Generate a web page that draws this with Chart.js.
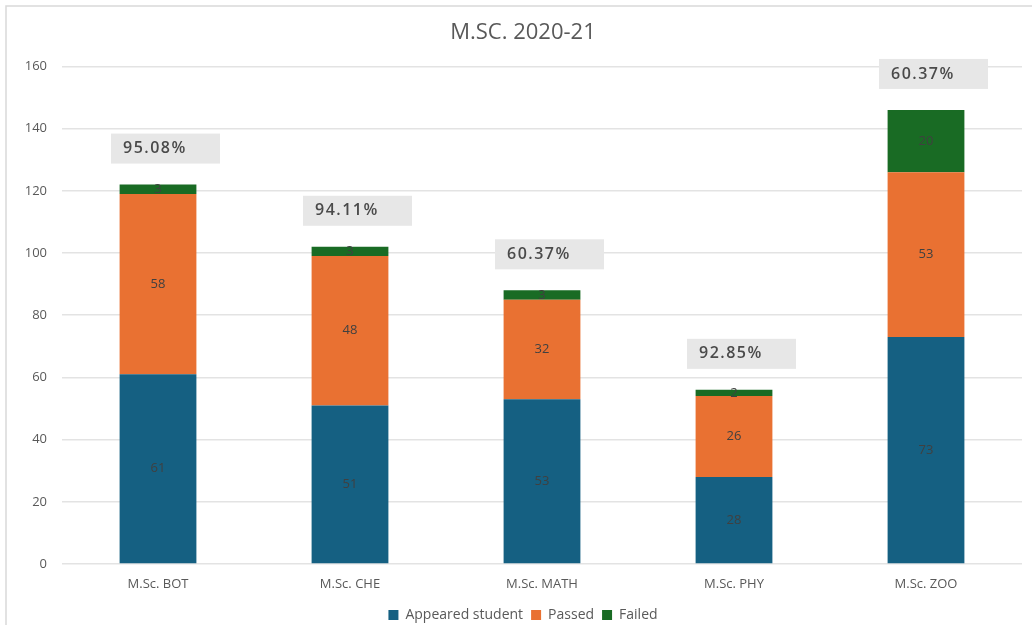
<!DOCTYPE html>
<html>
<head>
<meta charset="utf-8">
<script src="https://cdn.jsdelivr.net/npm/chart.js@4"></script>
<style>
html,body{margin:0;padding:0;background:#fff;}
#wrap{position:relative;width:1032px;height:625px;}
</style>
</head>
<body>
<div id="wrap"><canvas id="c" width="1032" height="625"></canvas></div>
<script>
const categories = ['M.Sc. BOT', 'M.Sc. CHE', 'M.Sc. MATH', 'M.Sc. PHY', 'M.Sc. ZOO'];
const appeared = [61, 51, 53, 28, 73];
const passed = [58, 48, 32, 26, 53];
const failed = [3, 3, 3, 2, 20];
const passPercent = ['95.08%', '94.11%', '60.37%', '92.85%', '60.37%'];
const yTicks = [0, 20, 40, 60, 80, 100, 120, 140, 160];

const FONT = '"Open Sans", "Liberation Sans", Arial, sans-serif';
const GREY = '#595959';

const frame = {
  id: 'frame',
  beforeDraw(chart) {
    const ctx = chart.ctx;
    ctx.save();
    ctx.fillStyle = '#fff';
    ctx.fillRect(0, 0, chart.width, chart.height);
    ctx.strokeStyle = '#d9d9d9';
    ctx.lineWidth = 1.5;
    ctx.strokeRect(6, 6, chart.width + 20, chart.height + 20);
    ctx.restore();
  }
};

const labelsPlugin = {
  id: 'segLabels',
  afterDatasetsDraw(chart) {
    const ctx = chart.ctx;
    ctx.save();
    ctx.font = '13px ' + FONT;
    ctx.fillStyle = '#404040';
    ctx.textAlign = 'center';
    ctx.textBaseline = 'middle';
    chart.data.datasets.forEach((ds, di) => {
      const meta = chart.getDatasetMeta(di);
      meta.data.forEach((bar, i) => {
        const yc = (bar.y + bar.base) / 2;
        ctx.fillText(String(ds.data[i]), bar.x, yc);
      });
    });
    const xs = chart.scales.x, ys = chart.scales.y;
    categories.forEach((c, i) => {
      const total = appeared[i] + passed[i] + failed[i];
      const x = xs.getPixelForValue(i);
      const yTop = ys.getPixelForValue(total);
      const left = x - 47, top = yTop - 51, w = 109, h = 30;
      ctx.fillStyle = '#e7e7e7';
      ctx.fillRect(left, top, w, h);
      ctx.fillStyle = '#4a4a4a';
      ctx.font = '600 16px ' + FONT;
      if ('letterSpacing' in ctx) ctx.letterSpacing = '1.5px';
      ctx.textAlign = 'left';
      ctx.fillText(passPercent[i], left + 12, top + h / 2);
    });
    ctx.restore();
  }
};

new Chart(document.getElementById('c'), {
  type: 'bar',
  data: {
    labels: categories,
    datasets: [
      { label: 'Appeared student', data: appeared, backgroundColor: '#156082' },
      { label: 'Passed', data: passed, backgroundColor: '#E97132' },
      { label: 'Failed', data: failed, backgroundColor: '#196B24' }
    ]
  },
  options: {
    responsive: false,
    animation: false,
    devicePixelRatio: 1,
    layout: { padding: { left: 24, right: 10, top: 16, bottom: -7 } },
    datasets: { bar: { categoryPercentage: 0.8, barPercentage: 0.5 } },
    plugins: {
      title: {
        display: true,
        text: 'M.SC. 2020-21',
        color: GREY,
        font: { family: FONT, size: 22, weight: 'normal' },
        padding: { top: 4, bottom: 20 }
      },
      legend: {
        position: 'bottom',
        labels: {
          color: GREY,
          font: { family: FONT, size: 14 },
          boxWidth: 10, boxHeight: 10, padding: 8
        }
      },
      tooltip: { enabled: false }
    },
    scales: {
      x: {
        stacked: true,
        grid: { display: false },
        border: { display: false },
        afterFit(s) { s.height = 36; },
        ticks: { color: GREY, font: { family: FONT, size: 13 }, padding: 4 }
      },
      y: {
        stacked: true,
        min: 0, max: 160,
        afterBuildTicks(s) { s.ticks = yTicks.map(v => ({ value: v })); },
        afterFit(s) { s.width = 38; },
        grid: { color: '#e3e3e3', lineWidth: 1.5, drawTicks: false },
        border: { display: false },
        ticks: { color: GREY, font: { family: FONT, size: 13 }, padding: 15 }
      }
    }
  },
  plugins: [frame, labelsPlugin]
});
</script>
</body>
</html>
